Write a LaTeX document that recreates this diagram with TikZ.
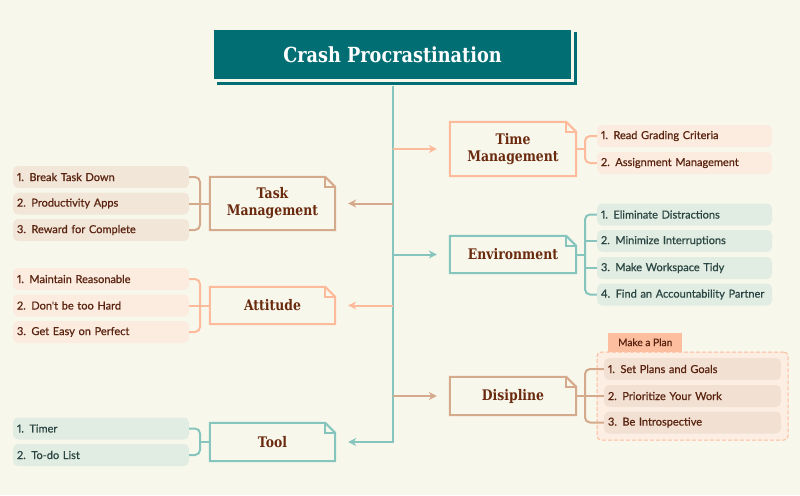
\documentclass[tikz,border=0pt]{standalone}
\usepackage{fontspec}
\usetikzlibrary{arrows.meta,calc,shadows}
\setmainfont{Lato}[Numbers=Proportional]
\newfontfamily\itemfont{Lato}[Numbers=Proportional,FakeBold=0.6]
\newfontfamily\slabfont{DejaVu Serif}[FakeStretch=0.85]
\definecolor{bg}{HTML}{F8F7EC}
\definecolor{titleteal}{HTML}{006E73}
\definecolor{teal}{HTML}{86C5BD}
\definecolor{tan}{HTML}{D5A98B}
\definecolor{peach}{HTML}{FDBB9C}
\definecolor{tanfill}{HTML}{F2E6D9}
\definecolor{peachfill}{HTML}{FCEBDF}
\definecolor{tealfill}{HTML}{E1ECE3}
\definecolor{disfill}{HTML}{F2E0D3}
\definecolor{groupfill}{HTML}{FCEEE2}
\definecolor{tabfill}{HTML}{FCBE9F}
\definecolor{labelbrown}{HTML}{6A2A0E}
\definecolor{itembrown}{HTML}{5A2410}
\definecolor{itemteal}{HTML}{2A4642}
\newcommand\foldout[2]{%
  \draw[#2, line width=2pt, line join=miter] (#1.south west) -- (#1.north west) -- ([xshift=-10pt]#1.north east) -- ([yshift=-10pt]#1.north east) -- (#1.south east) -- cycle;
  \draw[#2, line width=1.5pt] ([xshift=-10pt]#1.north east) -- ([xshift=-10pt,yshift=-10pt]#1.north east) -- ([yshift=-10pt]#1.north east);
}
\begin{document}
\begin{tikzpicture}[x=1pt,y=-1pt,
  lbl/.style={font=\slabfont\bfseries\fontsize{14.6}{17}\selectfont, text=labelbrown, align=center, inner sep=0pt},
  itembox/.style={rounded corners=5pt, minimum height=22pt, inner xsep=4pt, inner ysep=0pt, align=left, font=\itemfont\fontsize{11}{12}\selectfont},
  lit/.style={itembox, text width=168pt},
  rit/.style={itembox, text width=167pt},
  dit/.style={itembox, text width=169pt, fill=disfill, text=itembrown},
  brk/.style={line width=2pt, rounded corners=5pt},
  arr/.style={line width=2pt, -{Stealth[length=8pt,width=8pt,inset=2.5pt]}, shorten >=13pt},
]
\fill[bg] (0,0) rectangle (800,495);
\useasboundingbox (0,0) rectangle (800,495);
\coordinate (bxL) at (200,0);
\coordinate (bxR) at (585,0);

% title
\node[fill=titleteal, draw=bg, line width=2.5pt, minimum width=360pt, minimum height=52pt,
  drop shadow={shadow xshift=4.5pt, shadow yshift=-4pt, opacity=1, fill=titleteal},
  text=white, font=\slabfont\bfseries\fontsize{20.8}{24}\selectfont] (title) at (392.5,54.5) {Crash Procrastination};

% branch nodes
\node[lbl, minimum width=126pt, minimum height=54pt] (tm) at (513,149) {Time\\Management};
\foldout{tm}{peach}
\node[lbl, minimum width=125pt, minimum height=53pt] (task) at (272.5,203.5) {Task\\Management};
\foldout{task}{tan}
\node[lbl, minimum width=126pt, minimum height=37pt] (env) at (513,254.5) {Environment};
\foldout{env}{teal}
\node[lbl, minimum width=125pt, minimum height=37pt] (att) at (272.5,305.5) {Attitude};
\foldout{att}{peach}
\node[lbl, minimum width=126pt, minimum height=38pt] (dis) at (513,396) {Disipline};
\foldout{dis}{tan}
\node[lbl, minimum width=125pt, minimum height=38pt] (tool) at (272.5,442) {Tool};
\foldout{tool}{teal}

% trunk and arrows
\draw[arr, teal] ([yshift=-4pt]title.south) |- (tool);
\draw[arr, peach] (title.south |- tm) -- (tm);
\draw[arr, tan] (title.south |- task) -- (task);
\draw[arr, teal] (title.south |- env) -- (env);
\draw[arr, peach] (title.south |- att) -- (att);
\draw[arr, tan] (title.south |- dis) -- (dis);

% task items
\node[lit, fill=tanfill, text=itembrown] (ta1) at (101,177) {1. Break Task Down};
\node[lit, fill=tanfill, text=itembrown] (ta2) at (101,203.5) {2. Productivity Apps};
\node[lit, fill=tanfill, text=itembrown] (ta3) at (101,230) {3. Reward for Complete};
\draw[brk, tan] (ta1.east) -- (ta1.east -| bxL) -- (ta3.east -| bxL) -- (ta3.east);
\draw[brk, tan] (ta2.east) -- (task.west);

% attitude items
\node[lit, fill=peachfill, text=itembrown] (at1) at (101,279) {1. Maintain Reasonable};
\node[lit, fill=peachfill, text=itembrown] (at2) at (101,305.5) {2. Don't be too Hard};
\node[lit, fill=peachfill, text=itembrown] (at3) at (101,332) {3. Get Easy on Perfect};
\draw[brk, peach] (at1.east) -- (at1.east -| bxL) -- (at3.east -| bxL) -- (at3.east);
\draw[brk, peach] (at2.east) -- (att.west);

% tool items
\node[lit, fill=tealfill, text=itemteal] (to1) at (101,428.5) {1. Timer};
\node[lit, fill=tealfill, text=itemteal] (to2) at (101,455) {2. To-do List};
\draw[brk, teal] (to1.east) -- (to1.east -| bxL) -- (to2.east -| bxL) -- (to2.east);
\draw[brk, teal] (tool.west) -- (tool.west -| bxL);

% time management items
\node[rit, fill=peachfill, text=itembrown] (tm1) at (684.5,136) {1. Read Grading Criteria};
\node[rit, fill=peachfill, text=itembrown] (tm2) at (684.5,163) {2. Assignment Management};
\draw[brk, peach] (tm1.west) -- (tm1.west -| bxR) -- (tm2.west -| bxR) -- (tm2.west);
\draw[brk, peach] (tm.east) -- (tm.east -| bxR);

% environment items
\node[rit, fill=tealfill, text=itemteal] (e1) at (684.5,214.5) {1. Eliminate Distractions};
\node[rit, fill=tealfill, text=itemteal] (e2) at (684.5,241) {2. Minimize Interruptions};
\node[rit, fill=tealfill, text=itemteal] (e3) at (684.5,268) {3. Make Workspace Tidy};
\node[rit, fill=tealfill, text=itemteal] (e4) at (684.5,294.5) {4. Find an Accountability Partner};
\draw[brk, teal] (e1.west) -- (e1.west -| bxR) -- (e4.west -| bxR) -- (e4.west);
\draw[brk, teal] (e2.west -| bxR) -- (e2.west);
\draw[brk, teal] (e3.west -| bxR) -- (e3.west);
\draw[brk, teal] (env.east) -- (env.east -| bxR);

% discipline group
\node[draw=peach, line width=1pt, dash pattern=on 4pt off 2pt, fill=groupfill, rounded corners=4pt,
  minimum width=191pt, minimum height=88pt] (grp) at (692.5,396) {};
\node[fill=tabfill, minimum width=74pt, minimum height=19pt, inner sep=0pt, anchor=south west,
  text=itembrown, font=\itemfont\fontsize{10.2}{12}\selectfont] (tab) at (608,352) {Make a Plan};
\node[dit] (d1) at (692.5,369) {1. Set Plans and Goals};
\node[dit] (d2) at (692.5,396) {2. Prioritize Your Work};
\node[dit] (d3) at (692.5,422.5) {3. Be Introspective};
\draw[brk, tan] (d1.west) -- (d1.west -| bxR) -- (d3.west -| bxR) -- (d3.west);
\draw[brk, tan] (dis.east) -- (d2.west);
\end{tikzpicture}
\end{document}
